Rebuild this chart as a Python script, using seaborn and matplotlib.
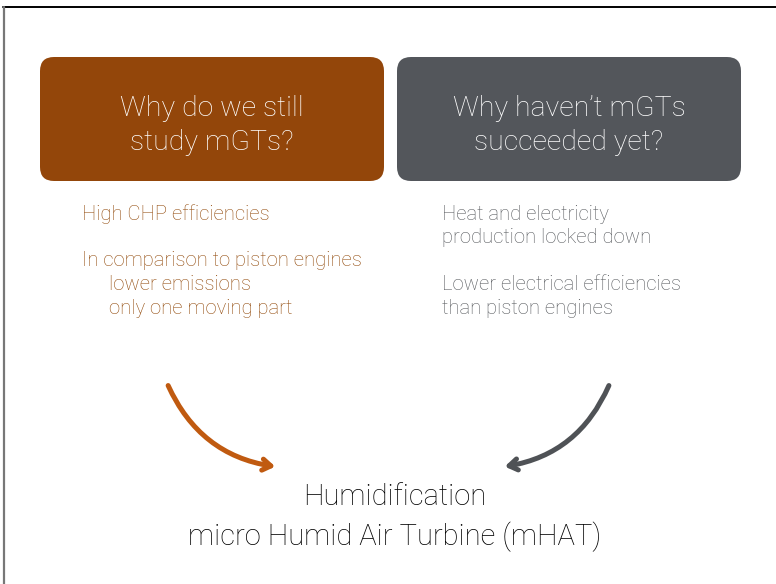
import matplotlib
matplotlib.use("Agg")
import matplotlib.pyplot as plt
import seaborn as sns
from matplotlib.patches import FancyBboxPatch, FancyArrowPatch

sns.set_theme(style="white")
plt.rcParams['font.family'] = ['Roboto', 'DejaVu Sans']

# slide content
box_titles = ["Why do we still\nstudy mGTs?", "Why haven\u2019t mGTs\nsucceeded yet?"]
box_colors = ["#93460a", "#53565b"]
box_x = [40, 397]
left_lines = ["High CHP efficiencies", "", "In comparison to piston engines",
              "lower emissions", "only one moving part"]
left_indent = [0, 0, 0, 27, 27]
right_lines = ["Heat and electricity", "production locked down", "",
               "Lower electrical efficiencies", "than piston engines"]
left_color = "#934c0e"
right_color = "#56595d"
bottom_lines = ["Humidification", "micro Humid Air Turbine (mHAT)"]

fig = plt.figure(figsize=(7.76, 5.84), dpi=100)
ax = fig.add_axes([0, 0, 1, 1])
ax.set_xlim(0, 776)
ax.set_ylim(584, 0)
ax.axis("off")

# frame lines
ax.plot([3, 776], [7, 7], color="black", lw=1.4)
ax.plot([4, 4], [7, 584], color="#777777", lw=1.6)

# header boxes
for x, title, col in zip(box_x, box_titles, box_colors):
    ax.add_patch(FancyBboxPatch((x + 14, 57 + 14), 344 - 28, 124 - 28,
                                boxstyle="round,pad=14", fc=col, ec="none"))
    ax.text(x + 172, 125.5, title, color="white", ha="center", va="center",
            fontsize=20.5, fontweight="light", linespacing=1.32)

# bullet text
for i, line in enumerate(left_lines):
    ax.text(82 + left_indent[i], 214 + i * 23.5, line, color=left_color,
            fontsize=14.6, fontweight="light", va="center")
for i, line in enumerate(right_lines):
    ax.text(442, 214 + i * 23.5, line, color=right_color, fontsize=14.6,
            fontweight="light", va="center")

# arrows
ax.add_patch(FancyArrowPatch((167, 383), (278, 467),
                             connectionstyle="arc3,rad=0.28",
                             arrowstyle="->,head_length=6,head_width=4",
                             color="#c05a10", lw=3.6, capstyle="round"))
ax.add_patch(FancyArrowPatch((610, 383), (502, 467),
                             connectionstyle="arc3,rad=-0.28",
                             arrowstyle="->,head_length=6,head_width=4",
                             color="#4f5256", lw=3.6, capstyle="round"))

# conclusion
ax.text(395, 497, bottom_lines[0], color="black", ha="center", va="center",
        fontsize=21, fontweight="light")
ax.text(395, 537, bottom_lines[1], color="black", ha="center", va="center",
        fontsize=21, fontweight="light")

fig.savefig("out.png", dpi=100, facecolor="white")
